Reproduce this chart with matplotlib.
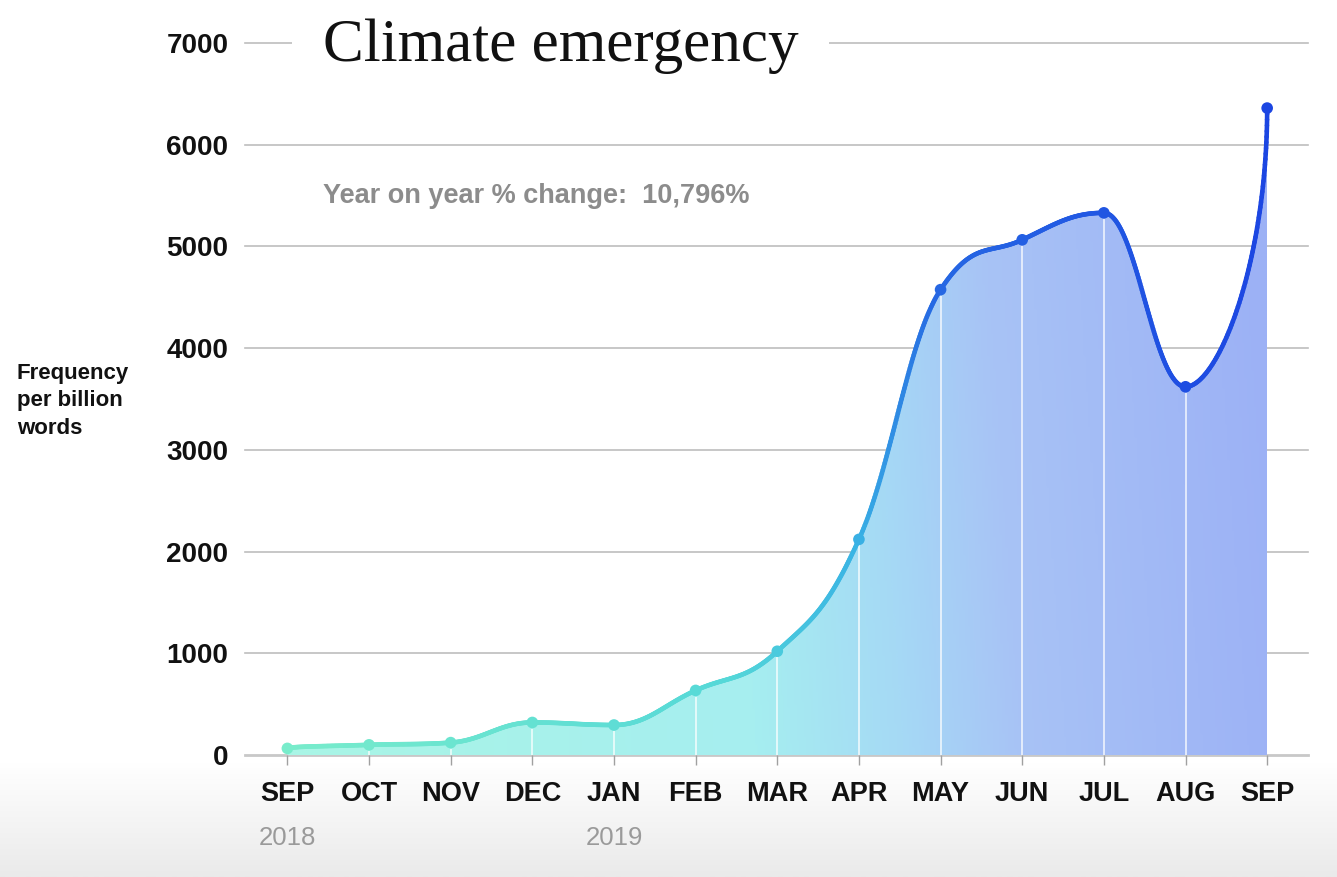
import numpy as np
import matplotlib.pyplot as plt
from matplotlib.collections import LineCollection
from matplotlib.colors import LinearSegmentedColormap
from matplotlib.patches import Polygon
import matplotlib.transforms as mtransforms

# data ------------------------------------------------
months = ['SEP', 'OCT', 'NOV', 'DEC', 'JAN', 'FEB', 'MAR', 'APR', 'MAY', 'JUN', 'JUL', 'AUG', 'SEP']
years = {0: '2018', 4: '2019'}
freq = [65, 100, 122, 320, 295, 635, 1020, 2120, 4575, 5065, 5330, 3620, 6360]
y_ticks = [0, 1000, 2000, 3000, 4000, 5000, 6000, 7000]
title = 'Climate emergency'
note = 'Year on year % change:  10,796%'


def spline_curve(x, y, smoothing=1.5, end_arm=0.55, n=80):
    # bezier spline: neighbour-based control points, flattened at local
    # peaks / dips, end points get a vertical arm
    x = np.asarray(x, float)
    y = np.asarray(y, float)
    npts = len(x)
    left = np.column_stack([x, y])
    right = np.column_stack([x, y])
    den = smoothing + 1
    for i in range(1, npts - 1):
        lx, ly = x[i - 1], y[i - 1]
        nx, ny = x[i + 1], y[i + 1]
        px, py = x[i], y[i]
        lcx = (smoothing * px + lx) / den
        lcy = (smoothing * py + ly) / den
        rcx = (smoothing * px + nx) / den
        rcy = (smoothing * py + ny) / den
        corr = (rcy - lcy) * (rcx - px) / (rcx - lcx) + py - rcy
        lcy += corr
        rcy += corr
        if lcy > ly and lcy > py:
            lcy = max(ly, py)
            rcy = 2 * py - lcy
        elif lcy < ly and lcy < py:
            lcy = min(ly, py)
            rcy = 2 * py - lcy
        if rcy > ny and rcy > py:
            rcy = max(ny, py)
            lcy = 2 * py - rcy
        elif rcy < ny and rcy < py:
            rcy = min(ny, py)
            lcy = 2 * py - rcy
        left[i] = (lcx, lcy)
        right[i] = (rcx, rcy)
    right[0] = (x[0], y[0] + end_arm * (y[1] - y[0]))
    left[-1] = (x[-1], y[-1] - end_arm * (y[-1] - y[-2]))
    out = []
    for i in range(npts - 1):
        t = np.linspace(0, 1, n, endpoint=(i == npts - 2))[:, None]
        p0 = np.array([x[i], y[i]])
        p3 = np.array([x[i + 1], y[i + 1]])
        out.append((1 - t)**3 * p0 + 3 * (1 - t)**2 * t * right[i]
                   + 3 * (1 - t) * t**2 * left[i + 1] + t**3 * p3)
    out = np.concatenate(out)
    return out[:, 0], out[:, 1]


line_cmap = LinearSegmentedColormap.from_list('line', [
    (0.0, '#78eccb'), (0.45, '#55d8d8'), (0.58, '#3ab4e4'),
    (0.66, '#2668e3'), (1.0, '#1c46e2')])
fill_cmap = LinearSegmentedColormap.from_list('fill', [
    (0.0, '#a9f5e6'), (0.45, '#a6eef0'), (0.6, '#a5d9f5'),
    (0.72, '#a8c3f6'), (1.0, '#9cb1f5')])

plt.rcParams['font.family'] = ['Liberation Sans', 'DejaVu Sans']

fig = plt.figure(figsize=(13.37, 8.77), dpi=100)

# light grey band at the bottom
bg = fig.add_axes([0, 0, 1, 0.13])
bg.imshow(np.linspace(0, 1, 100).reshape(-1, 1), cmap=LinearSegmentedColormap.from_list('bg', ['#ffffff', '#eaeaea']),
          aspect='auto', extent=[0, 1, 0, 1], origin='upper')
bg.axis('off')

ax = fig.add_axes([0.1832, 0.1391, 0.7951, 0.8119])
ax.patch.set_alpha(0)
x = np.arange(len(freq))
ax.set_xlim(-0.52, 12.5)
ax.set_ylim(0, 7000)

cx, cy = spline_curve(x, freq)

# gradient fill under the curve
gx, gy = np.meshgrid(np.linspace(0, 1, 400), np.linspace(0, 1, 200))
grad = np.clip(gx * 1.0 + 0.05 * gy - 0.03, 0, 1)
img = ax.imshow(grad, cmap=fill_cmap, vmin=0, vmax=1, aspect='auto',
                extent=[0, 12, 0, 7000], origin='lower', zorder=2)
poly = Polygon(np.column_stack([np.r_[cx, cx[-1], cx[0]], np.r_[cy, 0, 0]]),
               closed=True, transform=ax.transData, facecolor='none', edgecolor='none')
ax.add_patch(poly)
img.set_clip_path(poly)

# thin white lines inside the area
ax.vlines(x[1:-1], 0, np.array(freq[1:-1]) - 60, color='white', lw=1.3, alpha=0.75, zorder=3)

# gradient line
pts = np.column_stack([cx, cy]).reshape(-1, 1, 2)
segs = np.concatenate([pts[:-1], pts[1:]], axis=1)
lc = LineCollection(segs, colors=line_cmap(np.clip(cx[:-1] / 12, 0, 1)), linewidths=3.3, zorder=4,
                    capstyle='round', joinstyle='round')
lc.set_clip_on(False)
ax.add_collection(lc)
ax.scatter(x, freq, s=70, c=line_cmap(x / 12), zorder=5, clip_on=False, linewidths=0)

# grid
for v in y_ticks:
    ax.axhline(v, color='#bdbdbd' if v else '#c8c8c8', lw=1.2 if v else 2, zorder=1, clip_on=False)

for s in ax.spines.values():
    s.set_visible(False)

ax.set_yticks(y_ticks)
ax.set_yticklabels([str(v) for v in y_ticks], fontsize=20, fontweight='bold', color='#111111')
ax.tick_params(axis='y', length=0, pad=12)
ax.set_xticks(x)
ax.set_xticklabels(months, fontsize=19.5, fontweight='bold', color='#111111')
ax.tick_params(axis='x', length=7, width=1, color='#a0a0a0', pad=12)

trans = mtransforms.blended_transform_factory(ax.transData, ax.transAxes)
for i, yr in years.items():
    ax.text(x[i], -0.117, yr, transform=trans, ha='center', va='center', fontsize=18.5, color='#9a9a9a')

# title sits on the top gridline
ax.text(0.43, 6820, title, fontsize=44, family=['Liberation Serif', 'DejaVu Serif'], color='#111111',
        ha='left', va='baseline', zorder=6,
        bbox=dict(boxstyle='square,pad=0.5', facecolor='white', edgecolor='none'))

ax.text(0.44, 5500, note, fontsize=19.5, fontweight='bold', color='#8c8c8c', ha='left', va='center', zorder=6)

fig.text(17 / 1337, 0.543, 'Frequency\nper billion\nwords', fontsize=16, fontweight='bold',
         color='#111111', ha='left', va='center', linespacing=1.4)

fig.savefig('out.png', dpi=100)
